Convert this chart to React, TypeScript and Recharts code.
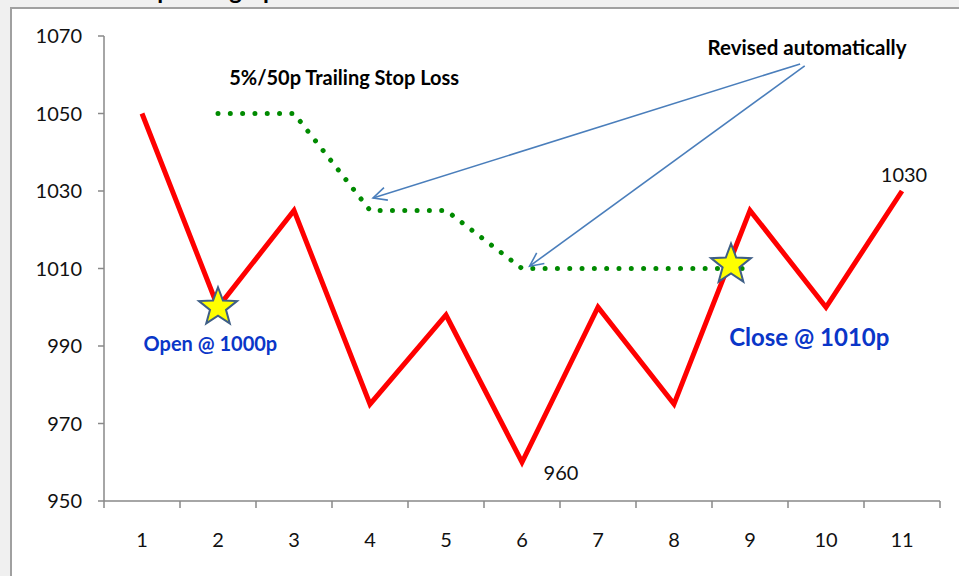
import React from 'react';
import { LineChart, Line, XAxis, YAxis, ReferenceDot, ReferenceLine, LabelList } from 'recharts';

// ---- data ----
const categories = [1, 2, 3, 4, 5, 6, 7, 8, 9, 10, 11];
const priceValues = [1050, 1000, 1025, 975, 998, 960, 1000, 975, 1025, 1000, 1030];
const stopValues: (number | null)[] = [null, 1050, 1050, 1025, 1025, 1010, 1010, 1010, 1010, null, null];
const yTicks = [950, 970, 990, 1010, 1030, 1050, 1070];
const labeledPriceIdx = [5, 10];

// annotation anchors (data coordinates)
const openPoint = { x: 2, y: 1000 };
const closePoint = { x: 8.75, y: 1011 };
const arrows = [
  { from: { x: 9.66, y: 1062.8 }, to: { x: 4.04, y: 1028.2 } },
  { from: { x: 9.72, y: 1062.3 }, to: { x: 6.1, y: 1010.6 } },
];
const texts = [
  { x: 3.66, y: 1057.4, text: '5%/50p Trailing Stop Loss', color: '#000000', size: 20 },
  { x: 9.75, y: 1065.1, text: 'Revised automatically', color: '#000000', size: 20.5 },
  { x: 1.9, y: 988.6, text: 'Open @ 1000p', color: '#0a36c8', size: 20 },
  { x: 9.78, y: 990.0, text: 'Close @ 1010p', color: '#0a36c8', size: 24 },
];

const data = categories.map((c, i) => ({ x: c, price: priceValues[i], stop: stopValues[i] }));
const xBoundaries = [...categories.map((c) => c - 0.5), categories[categories.length - 1] + 0.5];

const W = 959;
const H = 576;
const MARGIN = { top: 36, right: 19, bottom: 35, left: 0 };
const Y_AXIS_W = 104;
const PLOT_W = W - MARGIN.right - MARGIN.left - Y_AXIS_W;
const BAND = PLOT_W / categories.length;
const FONT = 'Lato, "Open Sans", sans-serif';
const AXIS_COLOR = '#898989';

function XTick(props: any) {
  const { x, y, index } = props;
  if (index >= categories.length) return <g />;
  return (
    <text x={x + BAND / 2} y={y + 37} textAnchor="middle" fontFamily={FONT} fontSize={20} fill="#111">
      {categories[index]}
    </text>
  );
}

function YTick(props: any) {
  const { x, y, payload } = props;
  return (
    <text x={x} y={y} dy={7} textAnchor="end" fontFamily={FONT} fontSize={20} fill="#111">
      {payload.value}
    </text>
  );
}

function starPoints(cx: number, cy: number, R: number, r: number) {
  const pts: string[] = [];
  for (let i = 0; i < 10; i++) {
    const rad = i % 2 === 0 ? R : r;
    const a = -Math.PI / 2 + (i * Math.PI) / 5;
    pts.push(`${cx + rad * Math.cos(a)},${cy + rad * Math.sin(a)}`);
  }
  return pts.join(' ');
}

const Star = (R: number) => (props: any) => {
  const { cx, cy } = props;
  return <polygon points={starPoints(cx, cy, R, R * 0.42)} fill="#ffff00" stroke="#3f5f86" strokeWidth={2} strokeLinejoin="miter" />;
};

const TextShape = (t: { text: string; color: string; size: number }) => (props: any) => {
  const { cx, cy } = props;
  return (
    <text x={cx} y={cy} textAnchor="middle" fontFamily={FONT} fontWeight="bold" fontSize={t.size} fill={t.color}>
      {t.text}
    </text>
  );
};

const ArrowShape = (props: any) => {
  const { x1, y1, x2, y2 } = props;
  const ang = Math.atan2(y2 - y1, x2 - x1);
  const len = 15;
  const spread = 0.45;
  const ax1 = x2 - len * Math.cos(ang - spread);
  const ay1 = y2 - len * Math.sin(ang - spread);
  const ax2 = x2 - len * Math.cos(ang + spread);
  const ay2 = y2 - len * Math.sin(ang + spread);
  return (
    <g>
      <line x1={x1} y1={y1} x2={x2} y2={y2} stroke="#4a7ebb" strokeWidth={1.6} />
      <polyline points={`${ax1},${ay1} ${x2},${y2} ${ax2},${ay2}`} fill="none" stroke="#4a7ebb" strokeWidth={1.6} />
    </g>
  );
};

const PriceLabel = (props: any) => {
  const { x, y, index } = props;
  if (!labeledPriceIdx.includes(index)) return null;
  const isLow = priceValues[index] < priceValues[index - 1];
  return (
    <text
      x={isLow ? x + 39 : x + 2}
      y={isLow ? y + 18 : y - 9}
      textAnchor="middle"
      fontFamily={FONT}
      fontSize={20}
      fill="#111"
    >
      {priceValues[index]}
    </text>
  );
};

export default function App() {
  return (
    <div style={{ position: 'fixed', left: 0, top: 0, width: W, height: H, background: '#f0f0f0', overflow: 'hidden' }}>
      <svg width={W} height={8} style={{ position: 'absolute', left: 0, top: 0, display: 'block' }}>
        <text x={122} y={-1} fontFamily={FONT} fontWeight="bold" fontSize={24} fill="#000">
          Stop Loss graph
        </text>
      </svg>
      <div
        style={{
          position: 'absolute',
          left: 10,
          top: 7,
          width: W,
          height: H,
          background: '#ffffff',
          borderLeft: '2px solid #a0a0a0',
          borderTop: '2px solid #a0a0a0',
        }}
      />
      <div style={{ position: 'absolute', left: 0, top: 0 }}>
        <LineChart width={W} height={H} data={data} margin={MARGIN}>
          <XAxis
            dataKey="x"
            type="number"
            domain={[xBoundaries[0], xBoundaries[xBoundaries.length - 1]]}
            ticks={xBoundaries}
            interval={0}
            height={40}
            tickSize={7}
            tick={<XTick />}
            axisLine={{ stroke: AXIS_COLOR, strokeWidth: 1.5 }}
            tickLine={{ stroke: AXIS_COLOR, strokeWidth: 1.5 }}
            allowDataOverflow
          />
          <YAxis
            type="number"
            domain={[yTicks[0], yTicks[yTicks.length - 1]]}
            ticks={yTicks}
            interval={0}
            width={Y_AXIS_W}
            tickSize={6}
            tickMargin={16}
            tick={<YTick />}
            axisLine={{ stroke: AXIS_COLOR, strokeWidth: 1.5 }}
            tickLine={{ stroke: AXIS_COLOR, strokeWidth: 1.5 }}
            allowDataOverflow
          />
          <Line
            dataKey="stop"
            type="linear"
            stroke="#008a00"
            strokeWidth={5}
            strokeDasharray="0.01 12.3"
            strokeLinecap="round"
            strokeLinejoin="round"
            dot={false}
            activeDot={false}
            isAnimationActive={false}
          />
          <Line
            dataKey="price"
            type="linear"
            stroke="#ff0000"
            strokeWidth={5}
            dot={false}
            activeDot={false}
            isAnimationActive={false}
          >
            <LabelList dataKey="price" content={<PriceLabel />} />
          </Line>
          {arrows.map((a, i) => (
            <ReferenceLine
              key={`arrow-${i}`}
              segment={[a.from, a.to]}
              shape={ArrowShape}
              ifOverflow="visible"
            />
          ))}
          <ReferenceDot x={openPoint.x} y={openPoint.y} r={20} shape={Star(20)} ifOverflow="visible" />
          <ReferenceDot x={closePoint.x} y={closePoint.y} r={21} shape={Star(21)} ifOverflow="visible" />
          {texts.map((t, i) => (
            <ReferenceDot key={`t-${i}`} x={t.x} y={t.y} r={1} shape={TextShape(t)} ifOverflow="visible" />
          ))}
        </LineChart>
      </div>
    </div>
  );
}
